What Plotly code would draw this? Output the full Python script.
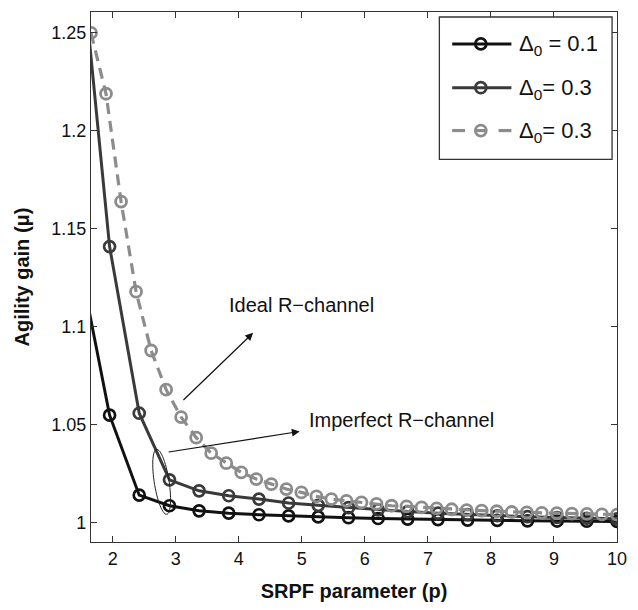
import numpy as np
import plotly.graph_objects as go

# ---- data ----
p_black = [1.48, 1.95, 2.42, 2.90, 3.37, 3.84, 4.32, 4.79, 5.26, 5.74, 6.21,
           6.68, 7.16, 7.63, 8.10, 8.58, 9.05, 9.52, 10.0]
gain_d01 = [1.132, 1.055, 1.0142, 1.0088, 1.0062, 1.0050, 1.0042, 1.0036, 1.0031,
            1.0027, 1.0023, 1.0020, 1.0017, 1.0015, 1.0013, 1.0011, 1.0010, 1.0009, 1.0008]
gain_d03 = [1.295, 1.141, 1.056, 1.022, 1.0164, 1.0139, 1.0122, 1.0102, 1.0090,
            1.0078, 1.0067, 1.0058, 1.0050, 1.0043, 1.0037, 1.0032, 1.0028, 1.0024, 1.0021]
p_gray = [1.655, 1.893, 2.132, 2.370, 2.609, 2.847, 3.085, 3.324, 3.562, 3.801,
          4.039, 4.277, 4.516, 4.754, 4.993, 5.231, 5.469, 5.708, 5.946, 6.185,
          6.423, 6.661, 6.900, 7.138, 7.377, 7.615, 7.853, 8.092, 8.330, 8.569,
          8.807, 9.045, 9.284, 9.522, 9.761, 10.0]
gain_ideal = [1.25, 1.219, 1.164, 1.118, 1.088, 1.068, 1.054, 1.0435, 1.0356, 1.0305,
              1.0258, 1.0224, 1.0198, 1.0173, 1.0156, 1.0136, 1.0122, 1.0113, 1.0105, 1.0097,
              1.0088, 1.0085, 1.0080, 1.0075, 1.0070, 1.0066, 1.0063, 1.0060, 1.0056, 1.0054,
              1.0052, 1.0050, 1.0048, 1.0046, 1.0044, 1.0043]
series_names = ["Δ<sub>0</sub> = 0.1", "Δ<sub>0</sub>= 0.3", "Δ<sub>0</sub>= 0.3"]
x_ticks = [2, 3, 4, 5, 6, 7, 8, 9, 10]
y_ticks = [1, 1.05, 1.1, 1.15, 1.2, 1.25]
y_ticktext = ["1", "1.05", "1.1", "1.15", "1.2", "1.25"]

XR = [1.655, 10.0]
YR = [0.9903, 1.2607]
W, H = 638, 610
ML, MR, MT, MB = 91, 14, 11, 67

FONT = "Liberation Sans, Arial, sans-serif"
COLORS = ["#111111", "#3a3a3a", "#8c8c8c"]

fig = go.Figure()
fig.add_trace(go.Scatter(
    x=p_black, y=gain_d01, mode="lines+markers", name=series_names[0],
    line=dict(color=COLORS[0], width=3),
    marker=dict(symbol="circle-open", size=11, color=COLORS[0], line=dict(width=2.7))))
fig.add_trace(go.Scatter(
    x=p_black, y=gain_d03, mode="lines+markers", name=series_names[1],
    line=dict(color=COLORS[1], width=3),
    marker=dict(symbol="circle-open", size=11, color=COLORS[1], line=dict(width=2.7))))
fig.add_trace(go.Scatter(
    x=p_gray, y=gain_ideal, mode="lines+markers", name=series_names[2],
    line=dict(color=COLORS[2], width=3.2, dash="11px,7px"),
    marker=dict(symbol="circle-open", size=11, color=COLORS[2], line=dict(width=2.8))))

pw = W - ML - MR
ph = H - MT - MB


def px_x(px):
    return (px - ML) / pw


def px_y(py):
    return 1 - (py - MT) / ph


# ellipse around the knee of the imperfect-channel curves
sx = pw / (XR[1] - XR[0])
sy = ph / (YR[1] - YR[0])
cx, cy = 2.776, 1.021
a_px, b_px, rot = 7.5, 33.0, np.deg2rad(-9)
t = np.linspace(0, 2 * np.pi, 60)
ex = a_px * np.cos(t)
ey = b_px * np.sin(t)
rx = ex * np.cos(rot) - ey * np.sin(rot)
ry = ex * np.sin(rot) + ey * np.cos(rot)
xs = cx + rx / sx
ys = cy - ry / sy
path = "M " + " L ".join(f"{a:.4f},{b:.5f}" for a, b in zip(xs, ys)) + " Z"
fig.add_shape(type="path", path=path, xref="x", yref="y",
              line=dict(color="#222222", width=1))

# arrows and labels
fig.add_annotation(x=4.965, y=1.0467, ax=2.863, ay=1.0361, xref="x", yref="y",
                   axref="x", ayref="y", showarrow=True, arrowhead=2, arrowsize=1.3,
                   arrowwidth=1.2, arrowcolor="#111111", text="")
fig.add_annotation(x=4.227, y=1.097, ax=3.098, ay=1.062, xref="x", yref="y",
                   axref="x", ayref="y", showarrow=True, arrowhead=2, arrowsize=1.3,
                   arrowwidth=1.2, arrowcolor="#111111", text="")
fig.add_annotation(x=5.0, y=1.111, xref="x", yref="y", text="Ideal R\u2212channel",
                   showarrow=False, font=dict(family=FONT, size=20, color="#111111"))
fig.add_annotation(x=6.58, y=1.0523, xref="x", yref="y", text="Imperfect R\u2212channel",
                   showarrow=False, font=dict(family=FONT, size=20, color="#111111"))

# legend box (drawn in paper coordinates to match the original's layout)
fig.add_shape(type="rect", xref="paper", yref="paper",
              x0=px_x(444), x1=px_x(619), y0=px_y(159), y1=px_y(16),
              line=dict(color="#333333", width=1.3), fillcolor="white", layer="above")
rows = [43, 87, 130]
for i, (name, col, row) in enumerate(zip(series_names, COLORS, rows)):
    yy = px_y(row)
    if i < 2:
        fig.add_shape(type="line", xref="paper", yref="paper", x0=px_x(457), x1=px_x(517),
                      y0=yy, y1=yy, line=dict(color=col, width=3), layer="above")
    else:
        for a, b in [(457, 470), (480, 492), (504, 517)]:
            fig.add_shape(type="line", xref="paper", yref="paper", x0=px_x(a), x1=px_x(b),
                          y0=yy, y1=yy, line=dict(color=col, width=3.2), layer="above")
    fig.add_shape(type="circle", xref="paper", yref="paper", xsizemode="pixel",
                  ysizemode="pixel", xanchor=px_x(486), yanchor=yy,
                  x0=-5.5, x1=5.5, y0=-5.5, y1=5.5,
                  line=dict(color=col, width=2.7), fillcolor="rgba(0,0,0,0)", layer="above")
    fig.add_annotation(xref="paper", yref="paper", x=px_x(523), y=px_y(row + 1),
                       xanchor="left", yanchor="middle", text=name, showarrow=False,
                       font=dict(family=FONT, size=22, color="#111111"))

axis_common = dict(showgrid=False, zeroline=False, showline=True, linecolor="#333333",
                   linewidth=1.3, mirror="ticks", ticks="inside", ticklen=6,
                   tickcolor="#333333", tickwidth=1.2,
                   tickfont=dict(family=FONT, size=18, color="#111111"))

fig.update_layout(
    width=W, height=H,
    margin=dict(l=ML, r=MR, t=MT, b=MB),
    paper_bgcolor="white", plot_bgcolor="white",
    font=dict(family=FONT, color="#111111"),
    xaxis=dict(range=XR, tickvals=x_ticks,
               title=dict(text="<b>SRPF parameter (p)</b>", font=dict(family=FONT, size=20),
                          standoff=16),
               **axis_common),
    yaxis=dict(range=YR, tickvals=y_ticks, ticktext=y_ticktext,
               title=dict(text="<b>Agility gain (\u03bc)</b>", font=dict(family=FONT, size=20),
                          standoff=16),
               **axis_common),
    showlegend=False,
)

fig.write_html("out.html", config={"displayModeBar": False},
               post_script="document.body.style.margin='0';document.body.style.overflow='hidden';")
